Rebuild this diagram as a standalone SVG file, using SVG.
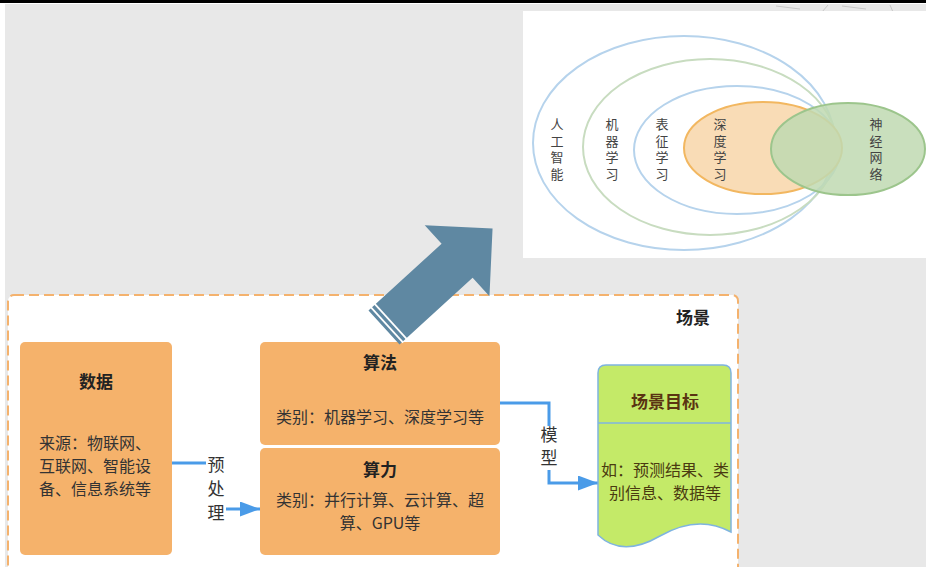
<svg xmlns="http://www.w3.org/2000/svg" width="926" height="567" viewBox="0 0 926 567">
<defs>
<style>
text{font-family:"Noto Sans CJK SC","Liberation Sans",sans-serif;}
.t{font-size:16px;fill:#333;}
.b{font-size:17px;font-weight:bold;fill:#222;}
.v{font-size:13px;fill:#444;writing-mode:vertical-rl;letter-spacing:3.5px;}
.box{fill:#f5b26b;}
.conn{fill:none;stroke:#4a9be8;stroke-width:3;}
.lbl{font-size:17px;fill:#333;writing-mode:vertical-rl;}
</style>
<marker id="ah" viewBox="0 0 20 15" refX="20" refY="7.5" markerWidth="20" markerHeight="15" orient="auto" markerUnits="userSpaceOnUse">
<path d="M0,0 L20,7.5 L0,15 z" fill="#4a9be8"/>
</marker>
</defs>
<rect width="926" height="567" fill="#ffffff"/>
<rect x="5" y="4" width="921" height="563" fill="#e8e8e8"/>
<rect x="0" y="0" width="926" height="3" fill="#000"/>
<g stroke="#c8c8c8" stroke-width="1" fill="none">
<path d="M776,6 L800,9"/><path d="M822,12 L828,5"/><path d="M842,6 L866,9"/><path d="M890,5 L893,12"/>
</g>
<g id="venn">
<rect x="523" y="11" width="403" height="247" fill="#ffffff"/>
<ellipse cx="684" cy="143" rx="151" ry="107" fill="none" stroke="#b6d3ec" stroke-width="2"/>
<ellipse cx="710" cy="147" rx="127" ry="88" fill="none" stroke="#c8dcc0" stroke-width="2"/>
<ellipse cx="737" cy="150" rx="103" ry="64" fill="none" stroke="#b6d3ec" stroke-width="2"/>
<ellipse cx="763" cy="148" rx="79" ry="46" fill="#f9dcb6" stroke="#f2b760" stroke-width="2"/>
<ellipse cx="848" cy="149" rx="77" ry="46" fill="#bfd9b2" fill-opacity="0.85" stroke="#9cc58c" stroke-width="2"/>
<text class="v" x="557" y="118">人工智能</text>
<text class="v" x="612" y="118">机器学习</text>
<text class="v" x="662" y="118">表征学习</text>
<text class="v" x="720" y="118">深度学习</text>
<text class="v" x="876" y="118">神经网络</text>
</g>
<g id="scene">
<rect x="8" y="295" width="730" height="290" rx="6" fill="#ffffff" stroke="#f4b26e" stroke-width="2" stroke-dasharray="10,5"/>
<text class="b" x="693" y="324" text-anchor="middle">场景</text>
</g>
<g id="connectors">
<polyline class="conn" points="172,463 216,463 216,509 260,509" marker-end="url(#ah)"/>
<polyline class="conn" points="500,403 549,403 549,483 598,483" marker-end="url(#ah)"/>
<rect x="206" y="455" width="20" height="70" fill="#ffffff"/>
<text class="lbl" x="216" y="456" letter-spacing="7">预处理</text>
<rect x="539" y="426" width="20" height="44" fill="#ffffff"/>
<text class="lbl" x="549" y="426" letter-spacing="6">模型</text>
</g>
<g id="data">
<rect class="box" x="20" y="342" width="152" height="213" rx="5"/>
<text class="b" x="96" y="388" text-anchor="middle">数据</text>
<text class="t" x="39" y="449">来源：物联网、</text>
<text class="t" x="39" y="472">互联网、智能设</text>
<text class="t" x="39" y="495">备、信息系统等</text>
</g>
<g id="algorithm">
<rect class="box" x="260" y="342" width="240" height="103" rx="5"/>
<text class="b" x="380" y="369" text-anchor="middle">算法</text>
<text class="t" x="380" y="423" text-anchor="middle">类别：机器学习、深度学习等</text>
</g>
<g id="compute">
<rect class="box" x="260" y="448" width="240" height="107" rx="5"/>
<text class="b" x="380" y="476" text-anchor="middle">算力</text>
<text class="t" x="380" y="506" text-anchor="middle">类别：并行计算、云计算、超</text>
<text class="t" x="380" y="529" text-anchor="middle">算、GPU等</text>
</g>
<g id="goal">
<path d="M598,373 Q598,365 606,365 L723,365 Q731,365 731,373 L731,532 Q698,514 660,536 Q622,558 598,535 Z" fill="#c4ea68" stroke="#7fb4e0" stroke-width="1.5"/>
<line x1="598" y1="423" x2="731" y2="423" stroke="#7fb4e0" stroke-width="1.5"/>
<text x="665" y="408" text-anchor="middle" style="font-size:17px;font-weight:bold;fill:#5a3412">场景目标</text>
<text x="665" y="476" text-anchor="middle" style="font-size:16px;fill:#4a3a10">如：预测结果、类</text>
<text x="665" y="499" text-anchor="middle" style="font-size:16px;fill:#4a3a10">别信息、数据等</text>
</g>
<g id="bigarrow" transform="translate(384,327.5) rotate(-42.4)">
<polygon points="0,-23 99,-23 99,-48 147,0 99,48 99,23 0,23" fill="#5f88a2"/>
<line x1="4" y1="-24" x2="4" y2="24" stroke="#ffffff" stroke-width="1.8"/>
<line x1="9" y1="-24" x2="9" y2="24" stroke="#ffffff" stroke-width="1.8"/>
</g>
</svg>
